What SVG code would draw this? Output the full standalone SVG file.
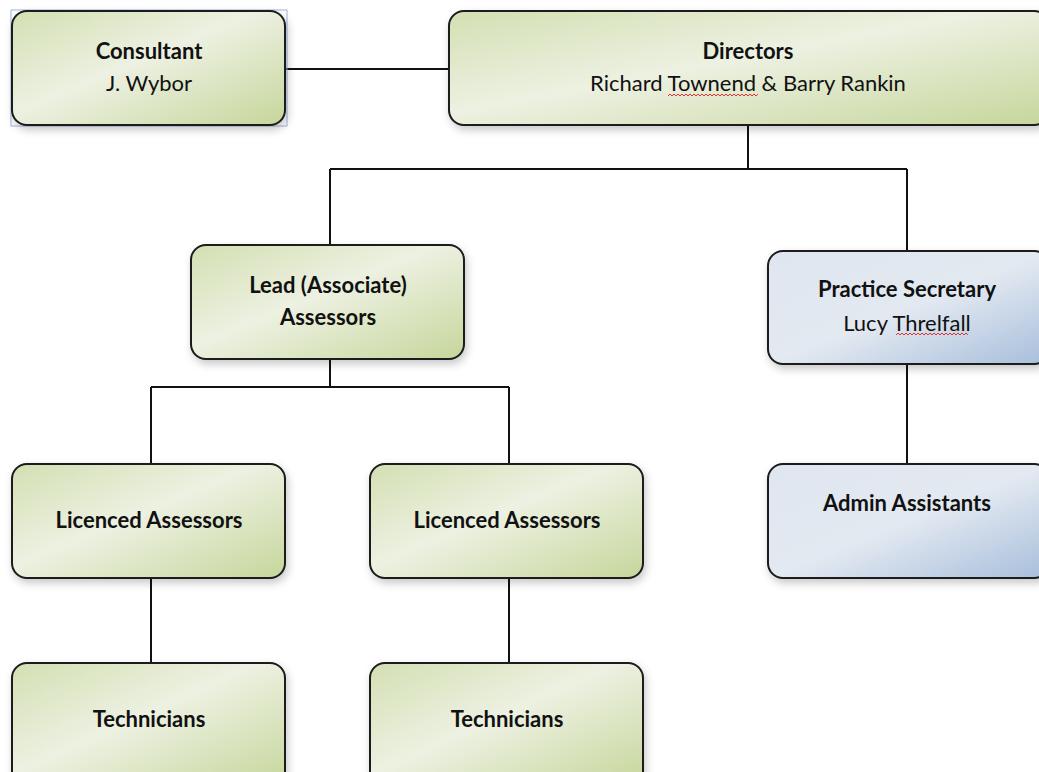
<svg xmlns="http://www.w3.org/2000/svg" width="1039" height="772" viewBox="0 0 1039 772">
<defs>
<linearGradient id="gGreen" x1="0" y1="0" x2="1" y2="1">
<stop offset="0" stop-color="#d3dfb2"/>
<stop offset="0.45" stop-color="#edf1e2"/>
<stop offset="1" stop-color="#c6d69b"/>
</linearGradient>
<linearGradient id="gBlue" x1="0" y1="0" x2="1" y2="1">
<stop offset="0" stop-color="#dfe6ef"/>
<stop offset="0.5" stop-color="#e3e9f1"/>
<stop offset="1" stop-color="#a7bedb"/>
</linearGradient>
<filter id="sh" x="-10%" y="-10%" width="125%" height="135%">
<feDropShadow dx="2" dy="4" stdDeviation="4" flood-color="#000" flood-opacity="0.22"/>
</filter>
</defs>
<style>
.box{stroke:#1a1a1a;stroke-width:2;filter:url(#sh)}
.green{fill:url(#gGreen)}
.blue{fill:url(#gBlue)}
.t{font-family:"Lato","Open Sans","Liberation Sans",sans-serif;font-size:22px;fill:#111;text-anchor:middle}
.b{font-weight:bold}
.conn{stroke:#111;stroke-width:2;fill:none}
.sq{stroke:#d33;stroke-width:1;fill:none}
</style>
<rect width="1039" height="772" fill="#ffffff"/>
<g id="connectors">
<path class="conn" d="M285,69 H449"/>
<path class="conn" d="M748,125 V169 M330,169 H907 M330,169 V245 M907,169 V251"/>
<path class="conn" d="M330,359 V387 M151,387 H509 M151,387 V464 M509,387 V464"/>
<path class="conn" d="M907,364 V464"/>
<path class="conn" d="M151,578 V663 M509,578 V663"/>
</g>
<g id="consultant">
<rect x="11" y="10" width="276" height="116" fill="none" stroke="#9bb6de" stroke-width="1"/>
<rect class="box green" x="12" y="11" width="273" height="114" rx="15"/>
<text class="t b" x="149" y="59">Consultant</text>
<text class="t" x="149" y="91">J. Wybor</text>
</g>
<g id="directors">
<rect class="box green" x="449" y="11" width="600" height="114" rx="15"/>
<text class="t b" x="748" y="59">Directors</text>
<text class="t" x="748" y="91">Richard Townend &amp; Barry Rankin</text>
<path class="sq" d="M668,96 l2,-2 l2,2 l2,-2 l2,2 l2,-2 l2,2 l2,-2 l2,2 l2,-2 l2,2 l2,-2 l2,2 l2,-2 l2,2 l2,-2 l2,2 l2,-2 l2,2 l2,-2 l2,2 l2,-2 l2,2 l2,-2 l2,2 l2,-2 l2,2 l2,-2 l2,2 l2,-2 l2,2 l2,-2 l2,2 l2,-2 l2,2 l2,-2 l2,2 l2,-2 l2,2 l2,-2 l2,2 l2,-2 l2,2 l2,-2 l2,2 l2,-2"/>
</g>
<g id="lead">
<rect class="box green" x="191" y="245" width="273" height="114" rx="15"/>
<text class="t b" x="328" y="293">Lead (Associate)</text>
<text class="t b" x="328" y="325">Assessors</text>
</g>
<g id="secretary">
<rect class="box blue" x="768" y="251" width="281" height="113" rx="15"/>
<text class="t b" x="907" y="297">Practice Secretary</text>
<text class="t" x="907" y="331">Lucy Threlfall</text>
<path class="sq" d="M896,335 l2,-2 l2,2 l2,-2 l2,2 l2,-2 l2,2 l2,-2 l2,2 l2,-2 l2,2 l2,-2 l2,2 l2,-2 l2,2 l2,-2 l2,2 l2,-2 l2,2 l2,-2 l2,2 l2,-2 l2,2 l2,-2 l2,2 l2,-2 l2,2 l2,-2 l2,2 l2,-2 l2,2 l2,-2 l2,2 l2,-2 l2,2 l2,-2 l2,2"/>
</g>
<g id="licenced1">
<rect class="box green" x="12" y="464" width="273" height="114" rx="15"/>
<text class="t b" x="149" y="528">Licenced Assessors</text>
</g>
<g id="licenced2">
<rect class="box green" x="370" y="464" width="273" height="114" rx="15"/>
<text class="t b" x="507" y="528">Licenced Assessors</text>
</g>
<g id="admin">
<rect class="box blue" x="768" y="464" width="281" height="114" rx="15"/>
<text class="t b" x="907" y="511">Admin Assistants</text>
</g>
<g id="technicians1">
<rect class="box green" x="12" y="663" width="273" height="124" rx="15"/>
<text class="t b" x="149" y="727">Technicians</text>
</g>
<g id="technicians2">
<rect class="box green" x="370" y="663" width="273" height="124" rx="15"/>
<text class="t b" x="507" y="727">Technicians</text>
</g>
</svg>
